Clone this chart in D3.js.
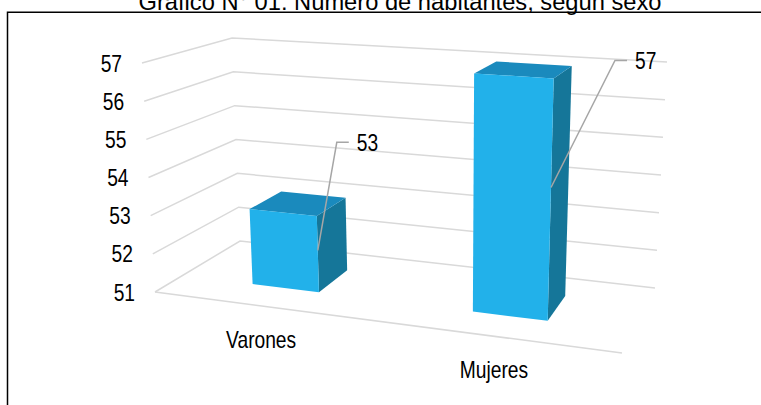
<!DOCTYPE html>
<html>
<head>
<meta charset="utf-8">
<script src="https://cdn.jsdelivr.net/npm/d3@7"></script>
<style>
  body { margin: 0; background: #fff; }
  svg { display: block; font-family: Arial, "Liberation Sans", sans-serif; }
</style>
</head>
<body>
<svg id="chart" width="761" height="405"></svg>
<script>
const title = "Gráfico N° 01: Número de habitantes, según sexo";
const categories = ["Varones", "Mujeres"];
const values = [53, 57];
const yTicks = [51, 52, 53, 54, 55, 56, 57];

// label elbow offsets (moved by hand in the original)
const labelNudge = [[19, -108], [64, -127]];

const W = 761, H = 405;
const svg = d3.select("#chart");

// screen corners of the 3d plot box: front-left, front-right, back-right, back-left
const floorQuad = [[155, 292], [622, 353], [655, 288], [240, 241]];
const topQuad = [[142, 63], [634, 95], [667, 62], [232, 38]];

// unit square -> quad
function homography(q) {
  const [x0, y0] = q[0], [x1, y1] = q[1], [x2, y2] = q[2], [x3, y3] = q[3];
  const dx1 = x1 - x2, dx2 = x3 - x2, dx3 = x0 - x1 + x2 - x3;
  const dy1 = y1 - y2, dy2 = y3 - y2, dy3 = y0 - y1 + y2 - y3;
  const den = dx1 * dy2 - dx2 * dy1;
  const g = (dx3 * dy2 - dx2 * dy3) / den;
  const h = (dx1 * dy3 - dx3 * dy1) / den;
  const a = x1 - x0 + g * x1, b = x3 - x0 + h * x3;
  const d = y1 - y0 + g * y1, e = y3 - y0 + h * y3;
  return (u, w) => {
    const z = g * u + h * w + 1;
    return [(a * u + b * w + x0) / z, (d * u + e * w + y0) / z];
  };
}
const floorH = homography(floorQuad);
const topH = homography(topQuad);

const x = d3.scaleBand().domain(categories).range([0, 1]);
const y = d3.scaleLinear().domain([51, 57]).range([0, 1]);
const barHalf = x.bandwidth() * 0.157;
const depth = [0.3, 0.7];

function proj(u, v, w) {
  const t = y(v);
  const a = floorH(u, w), b = topH(u, w);
  return [a[0] + (b[0] - a[0]) * t, a[1] + (b[1] - a[1]) * t];
}

const line = d3.line();

// frame
svg.append("path")
  .attr("d", `M7.5,${H} L7.5,12.3 L${W},12.3`)
  .attr("fill", "none")
  .attr("stroke", "#000")
  .attr("stroke-width", 1.5);

svg.append("text")
  .attr("x", 400)
  .attr("y", 9.5)
  .attr("text-anchor", "middle")
  .attr("font-size", 23.7)
  .attr("fill", "#000")
  .text(title);

// gridlines on side wall and back wall
const grid = svg.append("g")
  .attr("fill", "none")
  .attr("stroke", "#d9d9d9")
  .attr("stroke-width", 1.5);

grid.selectAll("path.grid")
  .data(yTicks)
  .enter()
  .append("path")
  .attr("class", "grid")
  .attr("d", v => line([proj(0, v, 0), proj(0, v, 1), proj(1, v, 1)]));

// front edge of the floor
grid.append("path")
  .attr("d", line([proj(0, 51, 0), proj(1, 51, 0)]));

// tick labels
svg.append("g")
  .selectAll("text")
  .data(yTicks)
  .enter()
  .append("text")
  .attr("transform", v => {
    const p = proj(0, v, 0);
    return `translate(${p[0] - 20},${p[1] + 8.6}) scale(0.8,1)`;
  })
  .attr("text-anchor", "end")
  .attr("font-size", 24)
  .attr("fill", "#000")
  .text(v => v);

// category labels
svg.append("g")
  .selectAll("text")
  .data(categories)
  .enter()
  .append("text")
  .attr("transform", c => {
    const p = proj(x(c) + x.bandwidth() / 2, 51, 0);
    return `translate(${p[0]},${p[1] + 42}) scale(0.8,1)`;
  })
  .attr("text-anchor", "middle")
  .attr("font-size", 24)
  .attr("fill", "#000")
  .text(c => c);

// bars
const bars = categories.map((c, i) => {
  const mid = x(c) + x.bandwidth() / 2;
  return { cat: c, value: values[i], u0: mid - barHalf, u1: mid + barHalf, i };
});

const barG = svg.selectAll("g.bar")
  .data(bars)
  .enter()
  .append("g")
  .attr("class", "bar");

const [w0, w1] = depth;
barG.append("path")
  .attr("fill", "#157699")
  .attr("d", d => line([proj(d.u1, 51, w0), proj(d.u1, 51, w1), proj(d.u1, d.value, w1), proj(d.u1, d.value, w0)]) + "Z");
barG.append("path")
  .attr("fill", "#1a8abd")
  .attr("d", d => line([proj(d.u0, d.value, w0), proj(d.u1, d.value, w0), proj(d.u1, d.value, w1), proj(d.u0, d.value, w1)]) + "Z");
barG.append("path")
  .attr("fill", "#22b1ea")
  .attr("d", d => line([proj(d.u0, 51, w0), proj(d.u1, 51, w0), proj(d.u1, d.value, w0), proj(d.u0, d.value, w0)]) + "Z");

// data labels with leader lines
bars.forEach(d => {
  const start = proj(d.u1, 51 + (d.value - 51) * 0.55, w0);
  const elbow = [start[0] + labelNudge[d.i][0], start[1] + labelNudge[d.i][1]];
  const end = [elbow[0] + 12, elbow[1]];
  svg.append("path")
    .attr("d", line([start, elbow, end]))
    .attr("fill", "none")
    .attr("stroke", "#a6a6a6")
    .attr("stroke-width", 1.5);
  svg.append("text")
    .attr("transform", `translate(${end[0] + 8},${elbow[1] + 8.6}) scale(0.8,1)`)
    .attr("font-size", 24)
    .attr("fill", "#000")
    .text(d.value);
});
</script>
</body>
</html>
